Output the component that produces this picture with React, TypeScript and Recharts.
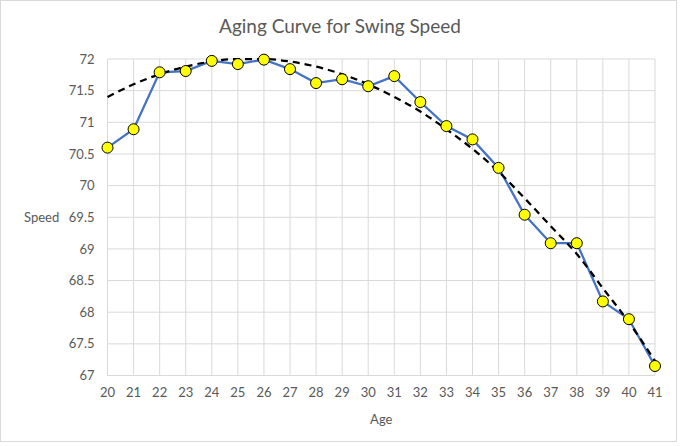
import React from 'react';
import {
  LineChart,
  Line,
  XAxis,
  YAxis,
  CartesianGrid,
} from 'recharts';

const AGES = [20, 21, 22, 23, 24, 25, 26, 27, 28, 29, 30, 31, 32, 33, 34, 35, 36, 37, 38, 39, 40, 41];

const SPEEDS = [
  70.6, 70.89, 71.79, 71.81, 71.97, 71.92, 71.99, 71.84, 71.62, 71.68, 71.57,
  71.73, 71.32, 70.94, 70.73, 70.28, 69.54, 69.09, 69.09, 68.17, 67.89, 67.15,
];

// dashed trendline
const TREND = [
  71.4, 71.6, 71.76, 71.88, 71.96, 72.0, 72.0, 71.96, 71.88, 71.76, 71.6,
  71.4, 71.17, 70.89, 70.58, 70.22, 69.8, 69.36, 68.92, 68.38, 67.84, 67.23,
];

const Y_TICKS = [67, 67.5, 68, 68.5, 69, 69.5, 70, 70.5, 71, 71.5, 72];

const FONT = 'Lato, "Noto Sans", sans-serif';
const TEXT = '#595959';
const GRID = '#d9d9d9';

const data = AGES.map((age, i) => ({ age, speed: SPEEDS[i], trend: TREND[i] }));

export default function App() {
  return (
    <div
      style={{
        position: 'absolute',
        left: 0,
        top: 0,
        width: 680,
        height: 446,
        background: '#fff',
        fontFamily: FONT,
      }}
    >
      <div
        style={{
          position: 'absolute',
          left: 0,
          top: 0,
          width: 677,
          height: 442,
          border: `1px solid ${GRID}`,
          boxSizing: 'border-box',
        }}
      />
      <div
        style={{
          position: 'absolute',
          top: 13,
          left: 0,
          width: 680,
          textAlign: 'center',
          fontSize: 19,
          color: TEXT,
          lineHeight: '26px',
        }}
      >
        Aging Curve for Swing Speed
      </div>
      <LineChart
        width={680}
        height={446}
        data={data}
        margin={{ top: 59, right: 25, bottom: 0, left: 0 }}
        style={{ position: 'absolute', left: 0, top: 0 }}
      >
        <CartesianGrid stroke={GRID} strokeWidth={1} />
        <XAxis
          dataKey="age"
          type="number"
          domain={[20, 41]}
          ticks={AGES}
          interval={0}
          height={70.5}
          tickLine={false}
          tickSize={6}
          tickMargin={6}
          axisLine={{ stroke: GRID }}
          tick={{ fontSize: 13, fill: TEXT, fontFamily: FONT }}
          label={{
            value: 'Age',
            position: 'insideBottom',
            offset: 22,
            fontSize: 13,
            fill: TEXT,
            fontFamily: FONT,
          }}
        />
        <YAxis
          type="number"
          domain={[67, 72]}
          ticks={Y_TICKS}
          width={107.5}
          tickLine={false}
          axisLine={false}
          tickSize={6}
          tickMargin={7}
          tick={{ fontSize: 13, fill: TEXT, fontFamily: FONT }}
          label={{
            value: 'Speed',
            position: 'insideLeft',
            offset: 24,
            fontSize: 13,
            fill: TEXT,
            fontFamily: FONT,
          }}
        />
        <Line
          dataKey="speed"
          stroke="#4472C4"
          strokeWidth={2.25}
          dot={{ r: 5.5, fill: '#FFFF00', stroke: '#000', strokeWidth: 1 }}
          activeDot={false}
          isAnimationActive={false}
        />
        <Line
          dataKey="trend"
          type="monotone"
          stroke="#000"
          strokeWidth={2.25}
          strokeDasharray="7 5"
          dot={false}
          activeDot={false}
          isAnimationActive={false}
        />
      </LineChart>
    </div>
  );
}
